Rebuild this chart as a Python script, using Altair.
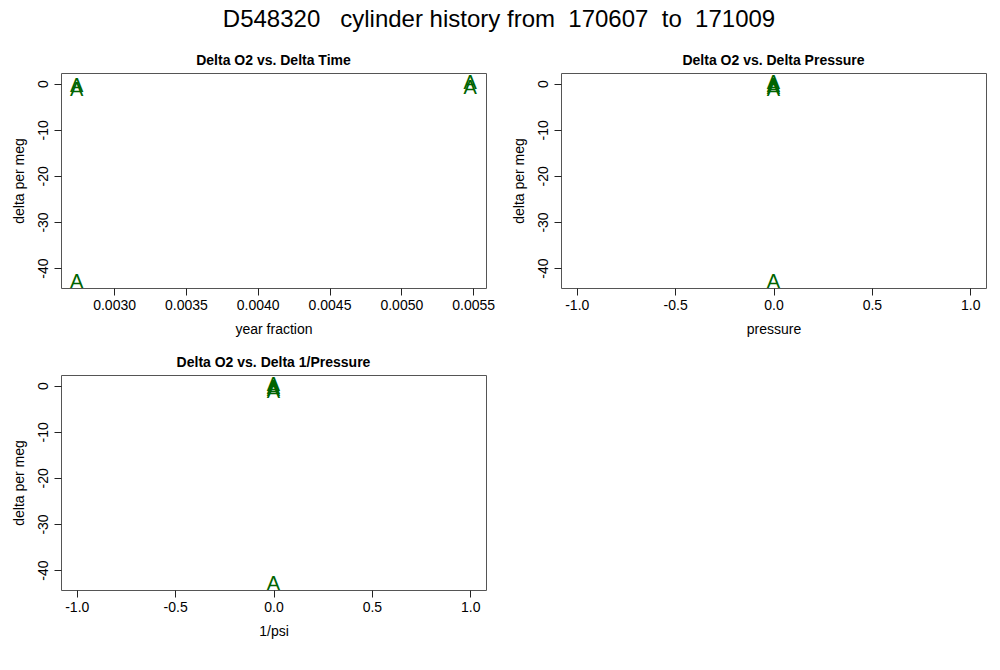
import altair as alt
import pandas as pd

FONT = "Liberation Sans"

# values
delta_time = [0.00274, 0.00274, 0.00274, 0.00548, 0.00548]   # year fraction
delta_o2 = [0.0, -1.0, -42.6, 0.6, -0.6]                      # delta per meg
delta_pressure = [0.0, 0.0, 0.0, 0.0, 0.0]                    # pressure
delta_inv_pressure = [0.0, 0.0, 0.0, 0.0, 0.0]                # 1/psi

time_ticks = [0.0030, 0.0035, 0.0040, 0.0045, 0.0050, 0.0055]
unit_ticks = [-1.0, -0.5, 0.0, 0.5, 1.0]
o2_ticks = [0, -10, -20, -30, -40]

df = pd.DataFrame({
    "dt": delta_time,
    "do2": delta_o2,
    "dp": delta_pressure,
    "dip": delta_inv_pressure,
})


def r_range(vals):
    lo, hi = min(vals), max(vals)
    if lo == hi:
        lo, hi = lo - 1, hi + 1
    s = hi - lo
    return [lo - 0.04 * s, hi + 0.04 * s]


def fmt_expr(spec):
    return (f"datum.value < 0 ? '-' + format(-datum.value, '{spec}') "
            f": format(datum.value, '{spec}')")


ydom = r_range(delta_o2)


def panel(field, xtitle, title, xticks, spec):
    return alt.Chart(df).mark_text(
        text="A", fontSize=20, color="#006400", font=FONT,
        align="center", baseline="middle", dy=2
    ).encode(
        x=alt.X(f"{field}:Q",
                scale=alt.Scale(domain=r_range(df[field].tolist()), nice=False, zero=False),
                axis=alt.Axis(values=xticks, labelExpr=fmt_expr(spec), title=xtitle,
                              labelPadding=3, titlePadding=10)),
        y=alt.Y("do2:Q",
                scale=alt.Scale(domain=ydom, nice=False, zero=False),
                axis=alt.Axis(values=o2_ticks, labelExpr=fmt_expr("d"), title="delta per meg",
                              labelAngle=270, labelAlign="center", labelBaseline="bottom",
                              labelPadding=4, titlePadding=10)),
    ).properties(
        width=425, height=215,
        title=alt.TitleParams(title, fontSize=14, fontWeight="bold", font=FONT, offset=5, color="black"),
    )


p1 = panel("dt", "year fraction", "Delta O2 vs. Delta Time", time_ticks, ".4f")
p2 = panel("dp", "pressure", "Delta O2 vs. Delta Pressure", unit_ticks, ".1f")
p3 = panel("dip", "1/psi", "Delta O2 vs. Delta 1/Pressure", unit_ticks, ".1f")

NB = "\u00a0"
main_title = f"D548320{NB*3}cylinder history from{NB*2}170607{NB*2}to{NB*2}171009"

chart = alt.concat(
    p1, p2, p3, columns=2,
    spacing={"row": 87, "column": 75}, bounds="flush",
).properties(
    title=alt.TitleParams(main_title, fontSize=24, font=FONT, fontWeight="normal",
                          anchor="middle", color="black", offset=21),
    padding={"left": 3, "top": 0, "right": 5, "bottom": 5},
    background="white",
).configure_view(
    stroke="#555", strokeWidth=1
).configure_axis(
    domain=False, grid=False, tickColor="#222", tickSize=7, tickWidth=1,
    labelFont=FONT, labelFontSize=14, labelColor="black",
    titleFont=FONT, titleFontSize=14, titleFontWeight="normal", titleColor="black",
)

chart.save("out.html", embed_options={"renderer": "svg", "actions": False})
